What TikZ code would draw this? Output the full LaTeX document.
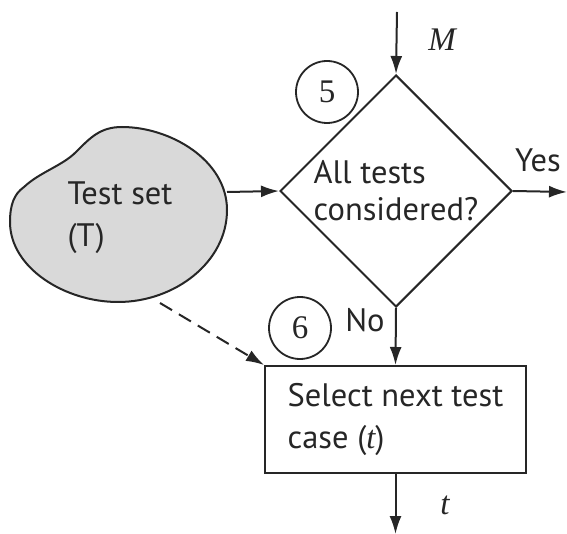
\documentclass[tikz,border=0pt]{standalone}
\usepackage{fontspec}
\setmainfont{PT Sans}
\newfontfamily\seriffont{Liberation Serif}
\usetikzlibrary{shapes.geometric,arrows.meta}
\definecolor{ink}{HTML}{262626}
\definecolor{blobfill}{HTML}{D9D9D9}
\begin{document}
\begin{tikzpicture}[x=1pt,y=-1pt,
  line/.style={line width=2pt, draw=ink},
  flow/.style={line, -{Latex[length=18pt,width=12pt]}},
  txt/.style={font=\fontsize{32.5}{37}\selectfont, text=ink},
  itl/.style={font=\seriffont\itshape\fontsize{33}{35}\selectfont, text=ink},
  tag/.style={circle, line width=1.8pt, draw=ink, fill=white, minimum size=62pt,
    inner sep=0pt, font=\seriffont\fontsize{33}{35}\selectfont, text=ink},
  decision/.style={diamond, aspect=1, line, minimum width=232pt, minimum height=232pt,
    inner sep=0pt, txt, align=left},
  process/.style={rectangle, line, minimum width=261pt, minimum height=107pt,
    inner sep=0pt, font=\fontsize{32.5}{42}\selectfont, text=ink, align=left}
]
\useasboundingbox (0,0) rectangle (567,534);

% test set blob, with a small kink at its upper left
\draw[line, fill=blobfill, line join=round]
  (24,187) .. controls (40,172) and (62,166) .. (76,152)
  .. controls (90,138) and (100,127) .. (122,127)
  .. controls (170,127) and (227,160) .. (227,210)
  .. controls (227,262) and (175,302) .. (118,302)
  .. controls (65,302) and (10,268) .. (10,222)
  .. controls (10,205) and (14,194) .. (24,187) -- cycle;
\node[txt, align=left, font=\fontsize{32.5}{42}\selectfont] (tset) at (120,218) {Test set\\(T)};
\coordinate (blobE) at (227,192);
\coordinate (blobS) at (160,303);

% decision and process nodes
\node[decision] (dec) at (396,191) {All tests\\considered?};
\node[process] (sel) at (395.5,419.5) {Select next test\\case ({\seriffont\itshape t})};

% step markers
\node[tag] (s5) at (327,92) {5};
\node[tag] (s6) at (300,328) {6};

% free ends
\coordinate (inM) at (397,12);
\coordinate (outYes) at (567,192);
\coordinate (outT) at (395.5,534);

% connectors
\draw[flow] (inM) -- (dec.north);
\draw[flow] (blobE) -- (dec.west);
\draw[flow] (dec.east) -- (outYes);
\draw[flow] (dec.south) -- (sel.north);
\draw[flow] (sel.south) -- (outT);
\draw[flow, dash pattern=on 14pt off 8pt] (blobS) -- (sel.north west);

% labels
\node[itl] (lM) at (442,40) {M};
\node[txt] (lYes) at (538,160) {Yes};
\node[txt] (lNo) at (365,320) {No};
\node[itl] (lt) at (445,505) {t};
\end{tikzpicture}
\end{document}
